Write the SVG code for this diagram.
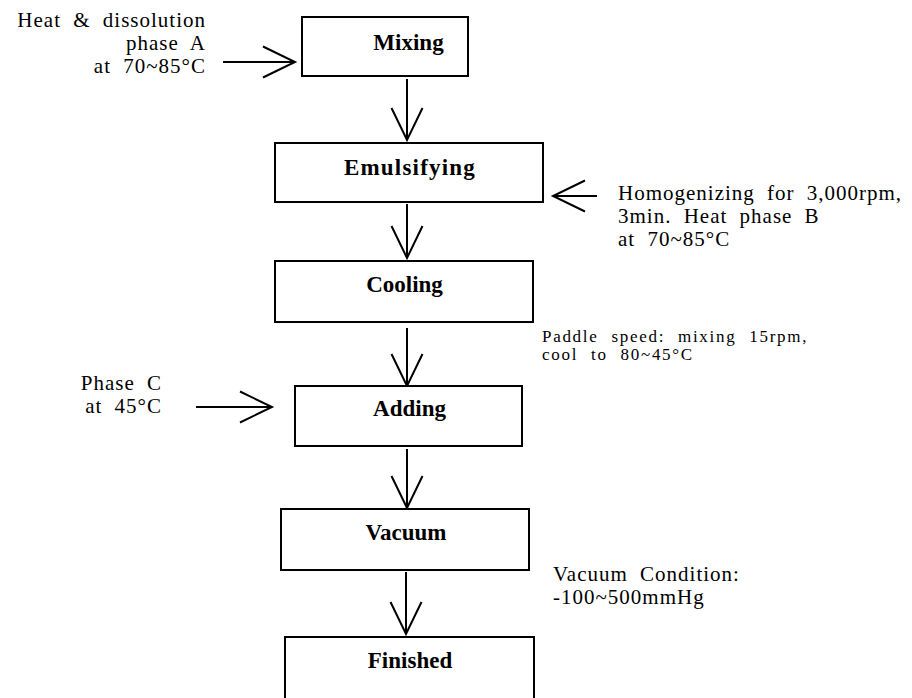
<svg xmlns="http://www.w3.org/2000/svg" width="912" height="698" viewBox="0 0 912 698">
<style>
  .box{fill:#fff;stroke:#000;stroke-width:2}
  .lbl{font-family:"Liberation Serif","Times New Roman",serif;font-weight:bold;font-size:23px;fill:#000;text-anchor:middle}
  .note{font-family:"Liberation Serif","Times New Roman",serif;font-size:21px;letter-spacing:1px;word-spacing:6px;fill:#000}
  .small{font-family:"Liberation Serif","Times New Roman",serif;font-size:17px;letter-spacing:1.7px;word-spacing:7px;fill:#000}
  .end{text-anchor:end}
  .conn{fill:none;stroke:#000;stroke-width:2;marker-end:url(#open)}
</style>
<defs>
  <marker id="open" markerUnits="userSpaceOnUse" viewBox="-36 -18 38 36" markerWidth="38" markerHeight="36" refX="0" refY="0" orient="auto" overflow="visible">
    <path d="M-32,-15.5 L0,0 L-32,15.5" fill="none" stroke="#000" stroke-width="2" stroke-linejoin="miter"/>
  </marker>
</defs>
<rect width="912" height="698" fill="#fff"/>

<g id="connectors">
  <path class="conn" d="M407,79 L407,140"/>
  <path class="conn" d="M407,204 L407,258"/>
  <path class="conn" d="M407,328 L407,386"/>
  <path class="conn" d="M407,449 L407,508"/>
  <path class="conn" d="M406,572 L406,634"/>
  <path class="conn" d="M223,62 L295,62"/>
  <path class="conn" d="M597,196 L553,196"/>
  <path class="conn" d="M196,407 L272,407"/>
</g>

<g id="mixing">
  <rect class="box" x="302" y="17" width="166" height="59"/>
  <text class="lbl" x="408.5" y="50">Mixing</text>
</g>
<g id="emulsifying">
  <rect class="box" x="275" y="143" width="268" height="59"/>
  <text class="lbl" x="410" y="175" letter-spacing="1.2">Emulsifying</text>
</g>
<g id="cooling">
  <rect class="box" x="275" y="261" width="258" height="61"/>
  <text class="lbl" x="404.5" y="292">Cooling</text>
</g>
<g id="adding">
  <rect class="box" x="295" y="386" width="227" height="60"/>
  <text class="lbl" x="409.5" y="416">Adding</text>
</g>
<g id="vacuum">
  <rect class="box" x="281" y="509" width="248" height="61"/>
  <text class="lbl" x="406" y="540">Vacuum</text>
</g>
<g id="finished">
  <rect class="box" x="285" y="637" width="249" height="80"/>
  <text class="lbl" x="410" y="668">Finished</text>
</g>

<g id="note-heat">
  <text class="note end" x="206" y="27">Heat &amp; dissolution</text>
  <text class="note end" x="206" y="50">phase A</text>
  <text class="note end" x="206" y="73">at 70~85°C</text>
</g>
<g id="note-homogenizing">
  <text class="note" x="618" y="200">Homogenizing for 3,000rpm,</text>
  <text class="note" x="618" y="223">3min. Heat phase B</text>
  <text class="note" x="618" y="246">at 70~85°C</text>
</g>
<g id="note-paddle">
  <text class="small" x="542" y="342">Paddle speed: mixing 15rpm,</text>
  <text class="small" x="542" y="360">cool to 80~45°C</text>
</g>
<g id="note-phasec">
  <text class="note end" x="162" y="390">Phase C</text>
  <text class="note end" x="162" y="413">at 45°C</text>
</g>
<g id="note-vacuum">
  <text class="note" x="553" y="581">Vacuum Condition:</text>
  <text class="note" x="553" y="604">-100~500mmHg</text>
</g>
</svg>
